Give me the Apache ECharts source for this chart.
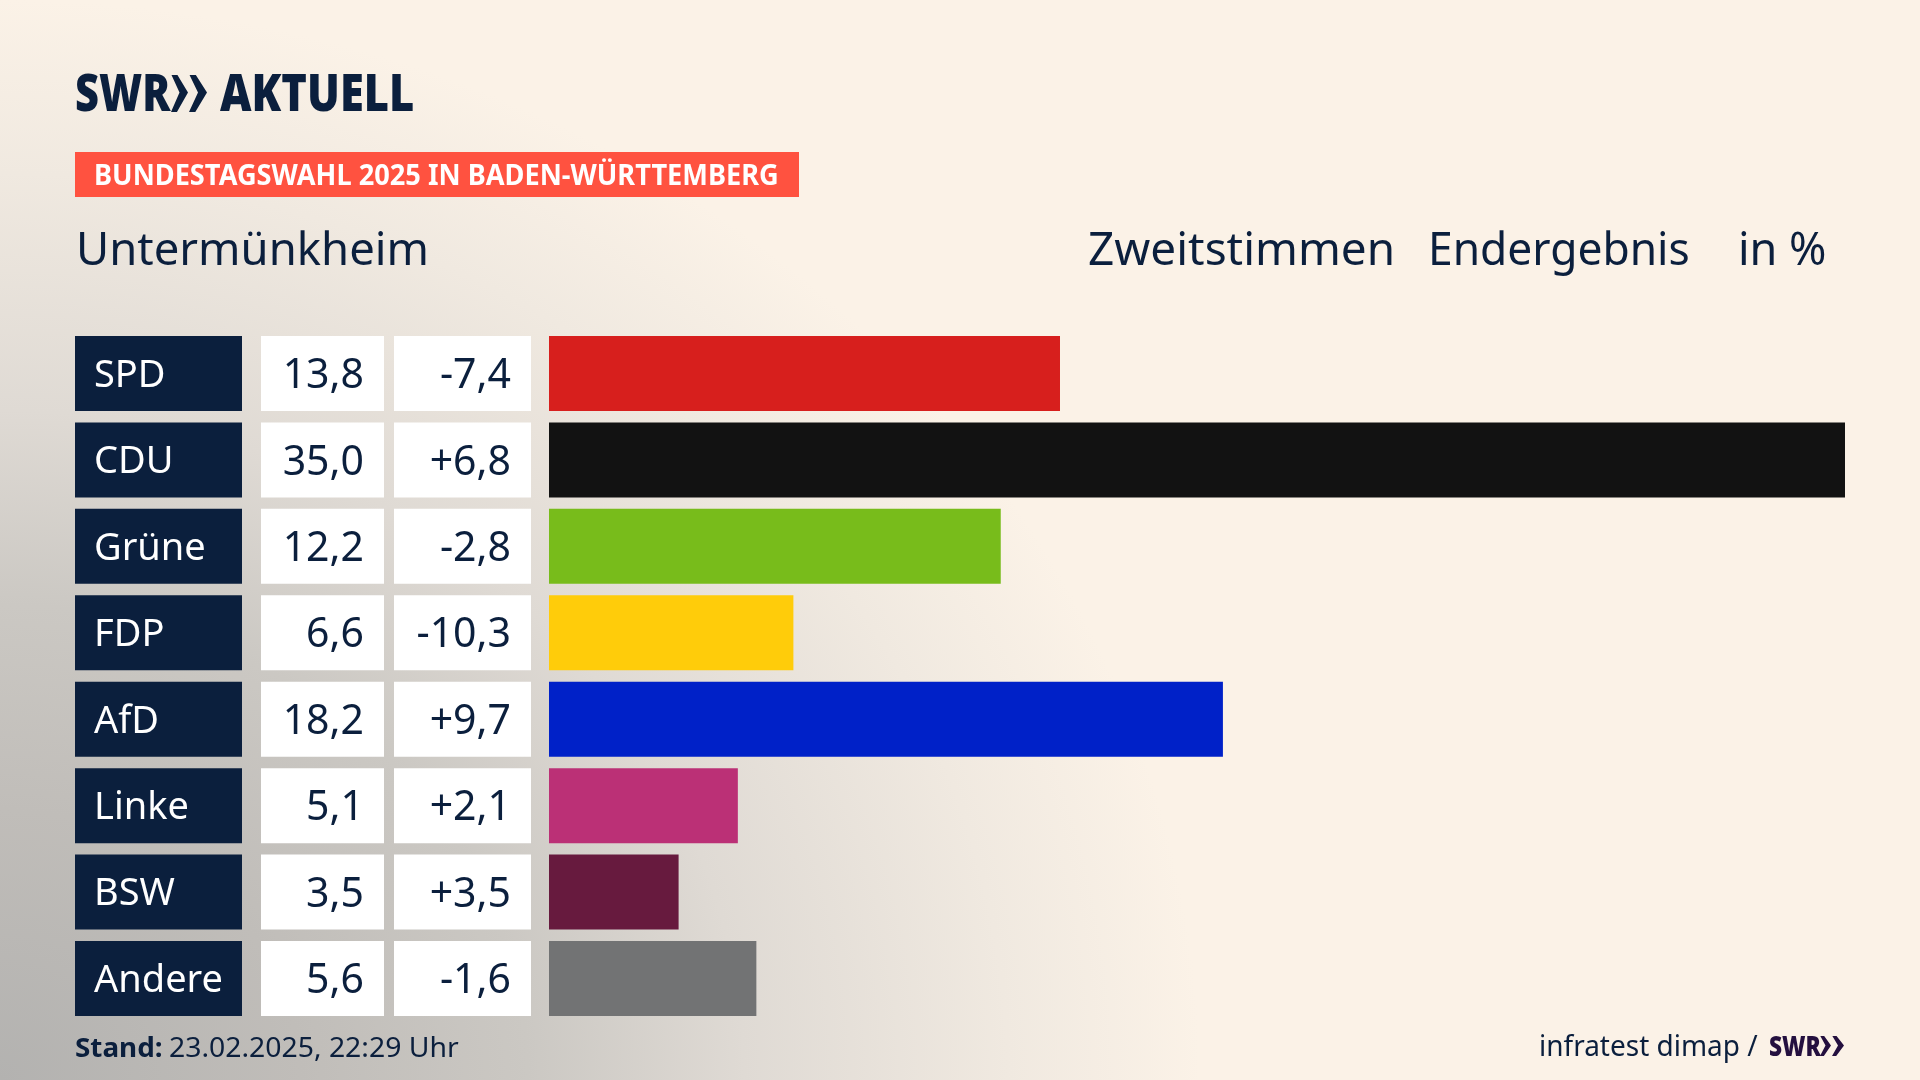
<!DOCTYPE html>
<html style="height: 100%">
<head>
    <meta charset="utf-8">
    <title>Untermünkheim Zweitstimmen</title>
    <script src="https://cdn.jsdelivr.net/npm/echarts@6/dist/echarts.min.js"></script>
    <style>
        html, body { margin: 0; width: 1920px; height: 1080px; overflow: hidden; }
        body {
            background-color: #fbf2e7;
            background-image:
                radial-gradient(ellipse 1200px 1080px at 0 1080px, #b3b2b0 0%, #c0bdb9 25%, #cbc8c3 44%, #dfdad4 62%, #f0e9e0 84%, #fbf2e7 100%);
        }
        #container { width: 1920px; height: 1080px; }
    </style>
</head>
<body>
<div id="container"></div>
<script type="text/javascript">
    var parties = ['SPD', 'CDU', 'Grüne', 'FDP', 'AfD', 'Linke', 'BSW', 'Andere'];
    var shares = [13.8, 35.0, 12.2, 6.6, 18.2, 5.1, 3.5, 5.6];
    var changes = [-7.4, 6.8, -2.8, -10.3, 9.7, 2.1, 3.5, -1.6];
    var colors = ['#d71f1d', '#121212', '#78bc1b', '#ffcc0a', '#0021c8', '#bb3076', '#671a3e', '#727374'];

    var navy = '#0b1f3d';
    var fontName = '"Noto Sans"';

    function num(v) {
        return v.toFixed(1).replace('.', ',');
    }
    function signed(v) {
        return (v > 0 ? '+' : '') + num(v);
    }

    // one category axis per table column, they share the grid of the bars
    function column(labels, offset, boxWidth, boxColor, textColor, align, size) {
        // top padding pushes the text down a little inside the cell
        var pad = align === 'left' ? [5, 0, 0, 19] : [6, 20, 0, 0];
        return {
            type: 'category',
            position: 'left',
            inverse: true,
            offset: offset,
            data: labels,
            axisLine: { show: false },
            axisTick: { show: false },
            axisLabel: {
                interval: 0,
                margin: 0,
                formatter: function (v) { return '{c|' + v + '}'; },
                rich: {
                    c: {
                        width: boxWidth - 20 + (align === 'left' ? 1 : 0),
                        height: 75 - pad[0],
                        lineHeight: 75 - pad[0],
                        padding: pad,
                        align: align,
                        backgroundColor: boxColor,
                        color: textColor,
                        fontFamily: fontName,
                        fontSize: size
                    }
                }
            }
        };
    }

    function label(text, x, y, size, weight, fill, scaleX, align) {
        return {
            type: 'text',
            x: x,
            y: y,
            scaleX: scaleX,
            style: {
                text: text,
                fontFamily: fontName,
                fontSize: size,
                fontWeight: weight,
                fill: fill,
                align: align || 'left',
                verticalAlign: 'middle'
            }
        };
    }

    // arrow head of the SWR logo, w wide and h high
    function chevron(x, y, w, h, fill) {
        return {
            type: 'polygon',
            shape: { points: [[x + 0.03 * w, y], [x + 0.38 * w, y], [x + w, y + h * 0.47], [x + 0.35 * w, y + h], [x, y + h], [x + 0.5 * w, y + h * 0.47]] },
            style: { fill: fill }
        };
    }

    var myChart = echarts.init(document.getElementById('container'));
    var option = {
        backgroundColor: 'transparent',
        animation: false,
        grid: { left: 549, top: 330.3, width: 1296, height: 691.4, containLabel: false, outerBoundsMode: 'none' },
        xAxis: { type: 'value', min: 0, max: 35, show: false },
        yAxis: [
            column(parties, 307, 167, navy, '#ffffff', 'left', 38),
            column(shares.map(num), 165, 123, '#ffffff', navy, 'right', 41),
            column(changes.map(signed), 18, 137, '#ffffff', navy, 'right', 41)
        ],
        series: [{
            type: 'bar',
            yAxisIndex: 0,
            barWidth: 75,
            silent: true,
            data: shares.map(function (v, i) {
                return { value: v, itemStyle: { color: colors[i] } };
            })
        }],
        graphic: [
            label('SWR', 75, 96.5, 52, 900, navy, 0.8),
            chevron(171, 75, 17, 37, navy),
            chevron(189, 75, 18, 37, navy),
            label('AKTUELL', 220, 96.5, 52, 900, navy, 0.835),
            { type: 'rect', shape: { x: 75, y: 152, width: 724, height: 45 }, style: { fill: '#ff5240' } },
            label('BUNDESTAGSWAHL 2025 IN BADEN-WÜRTTEMBERG', 94, 177.5, 28, 700, '#ffffff', 0.971),
            label('Untermünkheim', 76, 252, 45, 400, navy, 1.01),
            label('Zweitstimmen', 1088, 252, 45, 400, navy, 1.02),
            label('Endergebnis', 1428, 252, 45, 400, navy, 0.985),
            label('in %', 1738, 252, 45, 400, navy, 1),
            label('Stand:', 75, 1049, 27, 700, navy, 1.03),
            label('23.02.2025, 22:29 Uhr', 169, 1049, 27, 400, navy, 1.05),
            label('infratest dimap /', 1539, 1048, 29, 400, navy, 0.965),
            label('SWR', 1769, 1048, 29, 900, '#24103f', 0.78),
            chevron(1820, 1036, 11, 20, '#24103f'),
            chevron(1832, 1036, 12, 20, '#24103f')
        ]
    };
    myChart.setOption(option);
</script>
</body>
</html>
